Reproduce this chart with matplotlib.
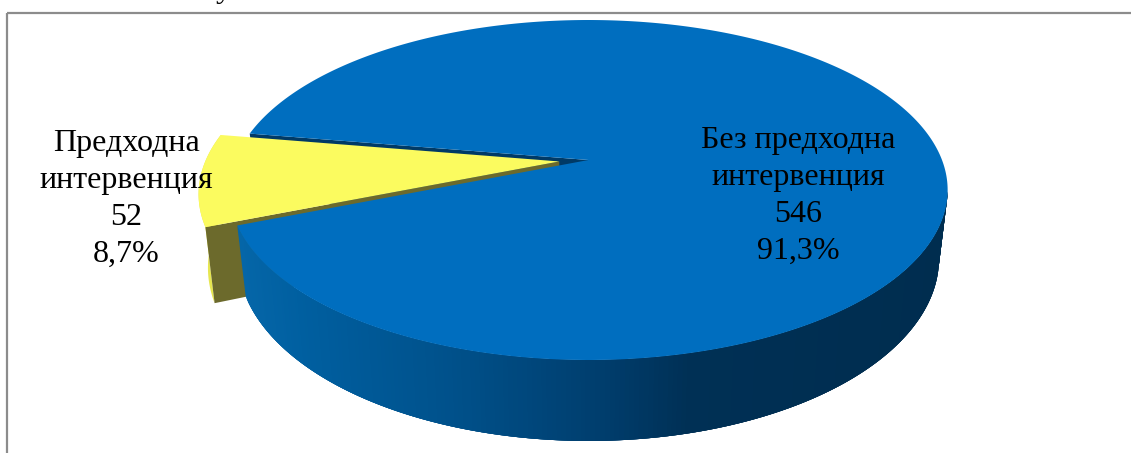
import numpy as np
import matplotlib
matplotlib.use("Agg")
import matplotlib.pyplot as plt
from matplotlib.patches import Polygon, Rectangle

# Set the font:
plt.rcParams['font.family'] = ['Liberation Serif', 'DejaVu Sans']

# Patient counts per group:
names = ["Без предходна\nинтервенция", "Предходна\nинтервенция"]
counts = [546, 52]

# Pie geometry in pixels, perspective is applied on the depth axis:
cx, cy_top, cy_bot = 588.5, 160, 226
rx, ry_top, ry_bot = 353.5, 164.7, 177
bot_scale = 0.976
persp = 0.1765
start_angle = 170.5
explode = 0.083
yellow_drop = 5

# Colors:
blue_top = "#006EBF"
blue_face = "#003A66"
yellow_top = "#FBFB5F"
yellow_rim = "#E6E650"
yellow_face = "#6C6A2C"
wall_x = [240, 300, 450, 600, 690, 950]
wall_r = [5, 0, 0, 0, 0, 0]
wall_g = [102, 95, 81, 62, 48, 45]
wall_b = [168, 160, 139, 110, 85, 79]


def project(angles, level="top", radius=1.0, shift=0.0, shift_angle=0.0):
    # Project points of the disc on the picture plane:
    angles = np.radians(angles)
    wx = radius * np.cos(angles) + shift * np.cos(np.radians(shift_angle))
    wd = radius * np.sin(angles) + shift * np.sin(np.radians(shift_angle))
    p = 1 + persp * wd
    if level == "top":
        return np.column_stack([cx + rx * wx / p, cy_top - ry_top * wd / p])
    return np.column_stack([cx + rx * bot_scale * wx / p, cy_bot - ry_bot * wd / p])


# Slice angles come from the counts:
shares = np.array(counts) / sum(counts)
yellow_span = shares[1] * 360
yellow_a0 = start_angle
yellow_a1 = start_angle + yellow_span
yellow_mid = (yellow_a0 + yellow_a1) / 2
blue_arc = np.linspace(yellow_a1, start_angle + 360, 500)
yellow_arc = np.linspace(yellow_a0, yellow_a1, 80)

fig = plt.figure(figsize=(11.31, 4.53), dpi=100)
ax = fig.add_axes([0, 0, 1, 1])
ax.set_xlim(0, 1131)
ax.set_ylim(453, 0)
ax.axis("off")

# Chart frame, open at the bottom of the canvas:
ax.add_patch(Rectangle((6.5, 12.5), 1140, 460, fill=False, edgecolor="#8C8C8C", linewidth=1.6))
# End of the line above the chart:
ax.text(224, -10, "у", fontsize=23, ha="center", va="center", color="black")

# Upper radial face of the blue slice, seen through the gap:
a_top = project(np.array([yellow_a0]))[0]
a_bot = project(np.array([yellow_a0]), "bot")[0]
ax.add_patch(Polygon([(cx, cy_top), a_top, a_bot, (cx, cy_bot)], color=blue_face, linewidth=0))

# Exploded yellow slice:
y_kw = dict(shift=explode, shift_angle=yellow_mid)
y_top = project(yellow_arc, **y_kw)
y_bot = project(yellow_arc, "bot", **y_kw) + [0, yellow_drop]
y_apex_top = project(np.array([0.0]), radius=0, **y_kw)[0]
y_apex_bot = project(np.array([0.0]), "bot", radius=0, **y_kw)[0] + [0, yellow_drop]
ax.add_patch(Polygon(np.vstack([y_top, y_bot[::-1]]), color=yellow_rim, linewidth=0))
ax.add_patch(Polygon([y_apex_top, y_top[-1], y_bot[-1], y_apex_bot], color=yellow_face, linewidth=0))
ax.add_patch(Polygon(np.vstack([y_apex_top, y_top]), color=yellow_top, linewidth=0))

# Outer wall of the blue slice, shaded from left to right. Strips overlap so no seams show:
wall_top = project(blue_arc)
wall_bot = project(blue_arc, "bot")
visible = np.where(blue_arc < 350)[0]
for i in visible[:-1]:
    j = min(i + 4, visible[-1])
    x_mid = (wall_top[i, 0] + wall_top[i + 1, 0]) / 2
    col = (np.interp(x_mid, wall_x, wall_r) / 255,
           np.interp(x_mid, wall_x, wall_g) / 255,
           np.interp(x_mid, wall_x, wall_b) / 255)
    ax.add_patch(Polygon(np.vstack([wall_top[i:j + 1], wall_bot[i:j + 1][::-1]]),
                         facecolor=col, edgecolor="none", linewidth=0))

# Top of the blue slice:
ax.add_patch(Polygon(np.vstack([[cx, cy_top], wall_top]), color=blue_top, linewidth=0))

# Labels:
for name, count, share, x, y in zip(names, counts, shares, [798, 126], [196, 199]):
    pct = "{:.1f}%".format(share * 100).replace(".", ",")
    ax.text(x, y, "{}\n{}\n{}".format(name, count, pct), fontsize=23, ha="center", va="center",
            multialignment="center", linespacing=1.37, color="black")

fig.savefig("out.png", dpi=100)
plt.close()
